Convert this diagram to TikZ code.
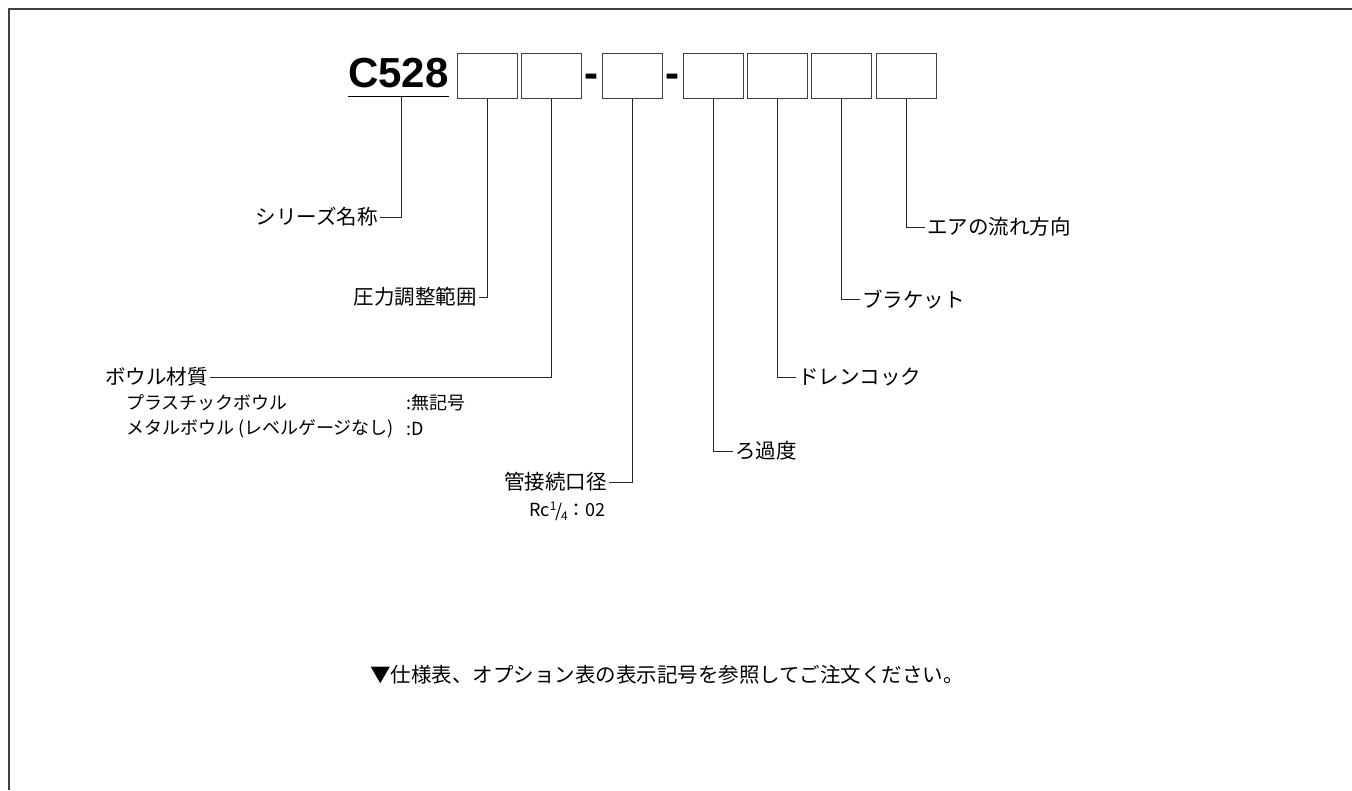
\documentclass[tikz,border=0pt]{standalone}
\usepackage{fontspec}
\setmainfont{Noto Sans CJK JP}
\newfontfamily\codefont{Liberation Sans}
\begin{document}
\begin{tikzpicture}[x=1pt,y=-1pt,
  pbox/.style={draw=black!75,line width=1pt,minimum width=60pt,minimum height=45pt,inner sep=0pt},
  code/.style={anchor=base,inner sep=0pt,font={\fontsize{42}{48}\codefont\bfseries}},
  lbl/.style={inner xsep=2pt,inner ysep=0pt,font={\fontsize{20.5}{24}\selectfont}},
  sublbl/.style={inner sep=0pt,anchor=west,font={\fontsize{18}{21}\selectfont}},
  lead/.style={draw=black!85,line width=1pt}]
\useasboundingbox (0,0) rectangle (1352,790);
\draw[line width=2pt,black!75] (9,790) -- (9,9) -- (1352,9);
% model code
\node[code] (series code) at (398.5,87) {C528};
\draw[line width=1pt] (348,96.5) -- (449,96.5);
\coordinate (ul) at (401,96.5);
\foreach \n/\x in {b1/487,b2/551,b3/632,b4/713,b5/777,b6/841,b7/906}
  \node[pbox] (\n) at (\x,75.5) {};
\node[code] (dashA) at (591.5,87) {-};
\node[code] (dashB) at (672.5,87) {-};
% left side
\node[lbl,anchor=east] (series) at (380,217) {シリーズ名称};
\node[lbl,anchor=east] (pres) at (479,297) {圧力調整範囲};
\node[lbl,anchor=west] (bowl) at (103,377) {ボウル材質};
\node[sublbl] (plastic) at (126,403) {プラスチックボウル};
\node[sublbl] (plasticsym) at (406,403) {:無記号};
\node[sublbl] (metal) at (126,429) {メタルボウル (レベルゲージなし)};
\node[sublbl] (metalsym) at (406,429) {:D};
\node[lbl,anchor=east] (pipe) at (609,482) {管接続口径};
\node[sublbl,anchor=east] (pipesize) at (606,511) {Rc\raisebox{0.6ex}{\fontsize{12}{13}\selectfont 1}\kern-1pt\raisebox{-0.1ex}{/}\kern-1.5pt\raisebox{-0.4ex}{\fontsize{12}{13}\selectfont 4}：02};
% right side
\node[lbl,anchor=west] (filter) at (733,451) {ろ過度};
\node[lbl,anchor=west] (drain) at (796,377) {ドレンコック};
\node[lbl,anchor=west] (bracket) at (860,299) {ブラケット};
\node[lbl,anchor=west] (air) at (925,227) {エアの流れ方向};
\draw[lead] (ul) |- (series.east);
\draw[lead] (b1.south) |- (pres.east);
\draw[lead] (b2.south) |- (bowl.east);
\draw[lead] (b3.south) |- (pipe.east);
\draw[lead] (b4.south) |- (filter.west);
\draw[lead] (b5.south) |- (drain.west);
\draw[lead] (b6.south) |- (bracket.west);
\draw[lead] (b7.south) |- (air.west);
\node[lbl] (note) at (667,675) {▼仕様表、オプション表の表示記号を参照してご注文ください。};
\end{tikzpicture}
\end{document}
